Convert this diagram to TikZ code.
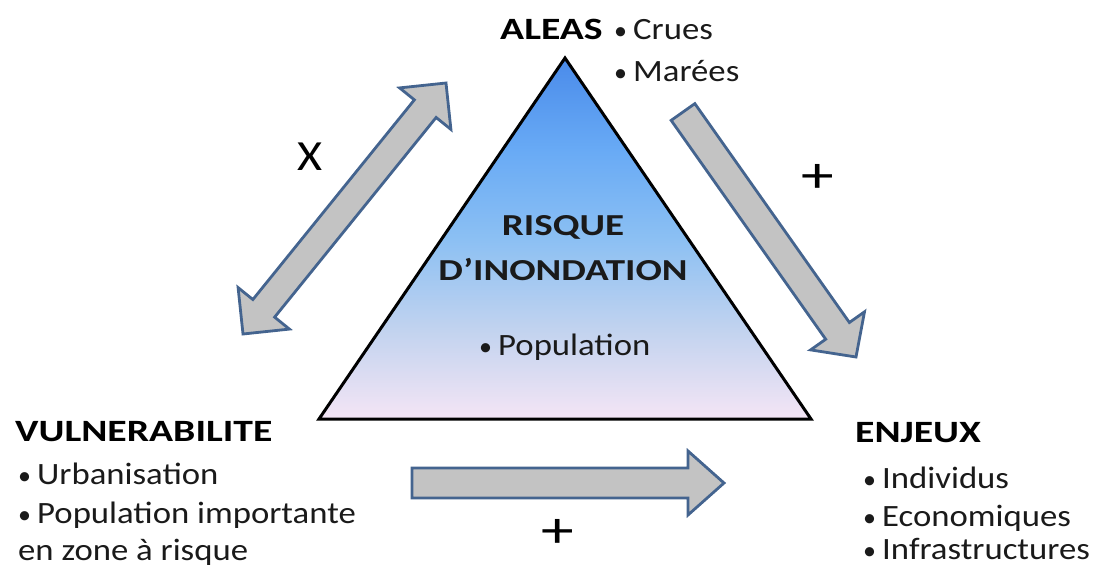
\documentclass[tikz,border=0pt]{standalone}
\usepackage{fontspec}
\setmainfont{Carlito}[FakeStretch=1.12]
\newfontfamily\widefont{Carlito}[FakeStretch=1.28]
\newfontfamily\plainfont{Carlito}
\usetikzlibrary{calc}
\definecolor{arrgray}{HTML}{C3C3C3}
\definecolor{arrblue}{HTML}{44648F}
\definecolor{triA}{HTML}{4A8BEA}
\definecolor{triB}{HTML}{68AAF5}
\definecolor{triC}{HTML}{8CC0F3}
\definecolor{triD}{HTML}{C2D3EF}
\definecolor{triE}{HTML}{F4E5F5}
\definecolor{txt}{HTML}{1A1A1A}
\pgfdeclareverticalshading{trishade}{100bp}{color(0bp)=(triE); color(25bp)=(triE); color(37.3bp)=(triD); color(49.8bp)=(triC); color(62.3bp)=(triB); color(75bp)=(triA); color(100bp)=(triA)}
\tikzset{
  blk/.style={fill=arrgray, draw=arrblue, line width=2.8pt, line join=miter},
  hdr/.style={font=\widefont\fontsize{31}{37}\selectfont\bfseries, inner sep=0pt, anchor=base west, text=black},
  itm/.style={font=\fontsize{31}{37}\selectfont, inner sep=0pt, anchor=base west, text=txt},
  ctr/.style={font=\widefont\fontsize{30.5}{36}\selectfont\bfseries, inner sep=0pt, anchor=base, text=txt},
  xsym/.style={font=\fontsize{43}{43}\selectfont, inner sep=0pt, text=black},
  psym/.style={font=\widefont\fontsize{51}{51}\selectfont, inner sep=0pt, text=black}
}
\newcommand\bul{\makebox[19pt][l]{\plainfont\fontsize{26}{26}\selectfont •}}
\newcommand\singlearr[5]{%
  \coordinate (#2n) at ($(#2)!#5pt!(#1)$);
  \draw[blk] ($(#1)!#3pt!90:(#2)$) -- ($(#2n)!#3pt!90:(#2)$) -- ($(#2n)!#4pt!90:(#2)$) -- (#2)
    -- ($(#2n)!#4pt!-90:(#2)$) -- ($(#2n)!#3pt!-90:(#2)$) -- ($(#1)!#3pt!-90:(#2)$) -- cycle;}
\newcommand\doublearr[5]{%
  \coordinate (#1n) at ($(#1)!#5pt!(#2)$);
  \coordinate (#2n) at ($(#2)!#5pt!(#1)$);
  \draw[blk] (#1) -- ($(#1n)!#4pt!90:(#2)$) -- ($(#1n)!#3pt!90:(#2)$) -- ($(#2n)!#3pt!90:(#2)$)
    -- ($(#2n)!#4pt!90:(#2)$) -- (#2) -- ($(#2n)!#4pt!-90:(#2)$) -- ($(#2n)!#3pt!-90:(#2)$)
    -- ($(#1n)!#3pt!-90:(#2)$) -- ($(#1n)!#4pt!-90:(#2)$) -- cycle;}
\begin{document}
\begin{tikzpicture}[x=1pt,y=-1pt]
\useasboundingbox (0,0) rectangle (1102,567);
% triangle
\coordinate (apex) at (565,58);
\coordinate (bl) at (319,419);
\coordinate (br) at (811,419);
\shade[shading=trishade] (apex) -- (bl) -- (br) -- cycle;
\draw[line width=3pt, line join=miter] (apex) -- (bl) -- (br) -- cycle;
% arrows
\coordinate (xA) at (243,334);
\coordinate (xB) at (446,83);
\doublearr{xA}{xB}{14}{33}{33}
\coordinate (pA) at (683,112);
\coordinate (pB) at (856,357);
\singlearr{pA}{pB}{14.5}{33}{32}
\coordinate (hA) at (412,483);
\coordinate (hB) at (724,483);
\singlearr{hA}{hB}{15}{32}{36}
% centre texts
\node[ctr] (risque) at (563,235) {RISQUE};
\node[ctr] (inond) at (563,280) {D’INONDATION};
\node[itm] (pop) at (479,355) {\bul Population};
% ALEAS
\node[hdr] (aleas) at (500,40) {ALEAS};
\node[itm] (crues) at (614,40) {\bul Crues};
\node[itm] (marees) at (614,82) {\bul Marées};
% VULNERABILITE
\node[hdr] (vuln) at (15,441) {VULNERABILITE};
\node[itm] (urb) at (18,484) {\bul Urbanisation};
\node[itm] (popimp) at (18,523) {\bul Population importante};
\node[itm] (zone) at (18,560) {en zone à risque};
% ENJEUX
\node[hdr] (enjeux) at (855,442) {ENJEUX};
\node[itm] (indiv) at (863,488) {\bul Individus};
\node[itm] (eco) at (863,526) {\bul Economiques};
\node[itm] (infra) at (863,559) {\bul Infrastructures};
% symbols
\node[xsym] (x) at (310,157) {X};
\node[psym] (plus1) at (818,178) {+};
\node[psym] (plus2) at (558,533) {+};
\end{tikzpicture}
\end{document}
